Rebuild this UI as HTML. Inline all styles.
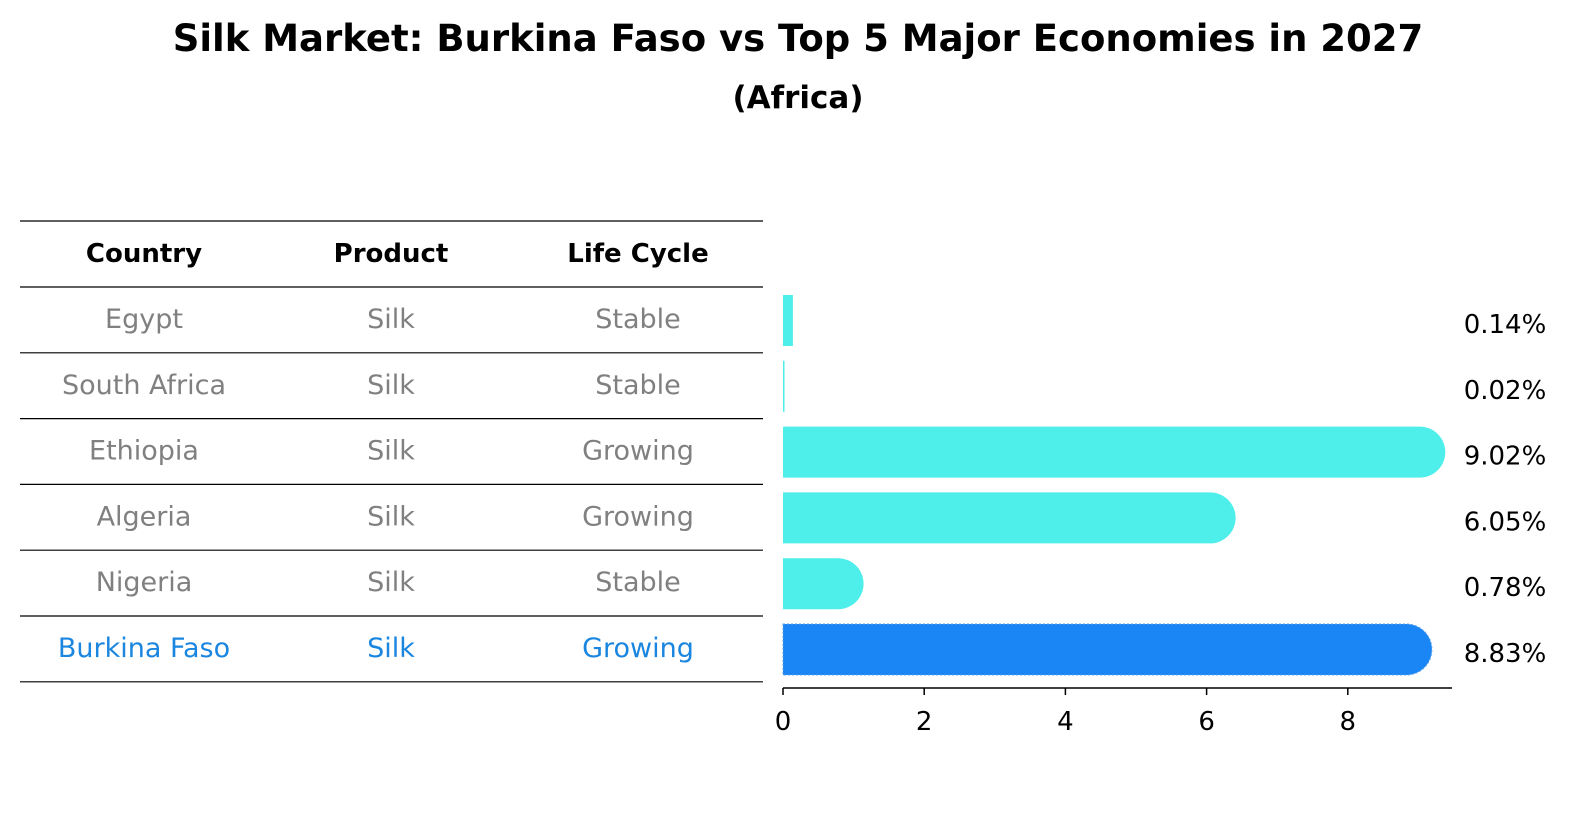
<!DOCTYPE html>
<html><head><meta charset="utf-8"><style>
body{margin:0;background:#fff;font-family:"Liberation Sans","DejaVu Sans",sans-serif;}
svg text{font-family:"DejaVu Sans","Liberation Sans",sans-serif;}
</style></head><body>
<svg width="1586" height="823" xmlns="http://www.w3.org/2000/svg" id="chart">
<text x="798" y="51" text-anchor="middle" font-size="37" font-weight="bold">Silk Market: Burkina Faso vs Top 5 Major Economies in 2027</text>
<text x="798" y="108" text-anchor="middle" font-size="31" font-weight="bold">(Africa)</text>
<g id="table"></g>
<g id="bars"></g>
</svg>
<script>
const countries=["Egypt","South Africa","Ethiopia","Algeria","Nigeria","Burkina Faso"];
const products=["Silk","Silk","Silk","Silk","Silk","Silk"];
const cycles=["Stable","Stable","Growing","Growing","Stable","Growing"];
const values=[0.14,0.02,9.02,6.05,0.78,8.83];
const ticks=[0,2,4,6,8];
const NS="http://www.w3.org/2000/svg";
const x0=783, pxPer=70.6;
const xs=v=>x0+v*pxPer;
const rowY=i=>287+i*65.8;
const tbl=document.getElementById('table'), bars=document.getElementById('bars');
function mk(tag,attrs,parent){const e=document.createElementNS(NS,tag);for(const k in attrs)e.setAttribute(k,attrs[k]);parent.appendChild(e);return e;}
const colX=[144,391,638];
const hdr=["Country","Product","Life Cycle"];
hdr.forEach((h,j)=>{const t=mk('text',{x:colX[j],y:262,'text-anchor':'middle','font-size':26,'font-weight':'bold'},tbl);t.textContent=h;

});
for(let k=0;k<=countries.length+1;k++){const y=k==0?221:rowY(k-1);const l=mk('line',{x1:20,x2:763,y1:y,y2:y,stroke:'#000','stroke-width':1.2},tbl);

}
countries.forEach((c,i)=>{
 const cy=rowY(i)+33;
 const col=c==="Burkina Faso"?"#1a86e0":"#808080";
 [c,products[i],cycles[i]].forEach((s,j)=>{const t=mk('text',{x:colX[j],y:cy+8,'text-anchor':'middle','font-size':27,fill:col},tbl);t.textContent=s;
 
 });
 const v=values[i], top=cy-25, h=51, x1=xs(v);
 const fill=c==="Burkina Faso"?"#1a86f5":"#4eeeea";
 let d;
 if(v>0.5){d=`M${x0},${top} H${x1} A25.5,25.5 0 0 1 ${x1},${top+h} H${x0} Z`;}
 else{d=`M${x0},${top} H${Math.max(x1,x0+1.5)} V${top+h} H${x0} Z`;}
 const p=mk('path',{d:d,fill:fill},bars);
 if(c==="Burkina Faso"){p.setAttribute('stroke','#5aa0e8');p.setAttribute('stroke-dasharray','2,2');}
 
 
 const t=mk('text',{x:1505,y:cy+13,'text-anchor':'middle','font-size':26},bars);t.textContent=v.toFixed(2)+'%';
 
 
});
const ax=mk('line',{x1:x0,x2:1452,y1:688,y2:688,stroke:'#000','stroke-width':1.5},bars);


ticks.forEach(v=>{const l=mk('line',{x1:xs(v),x2:xs(v),y1:688,y2:695,stroke:'#000','stroke-width':1.5},bars);
 
 
 const t=mk('text',{x:xs(v),y:730,'text-anchor':'middle','font-size':26},bars);t.textContent=v;
 
 });
</script>
</body></html>
